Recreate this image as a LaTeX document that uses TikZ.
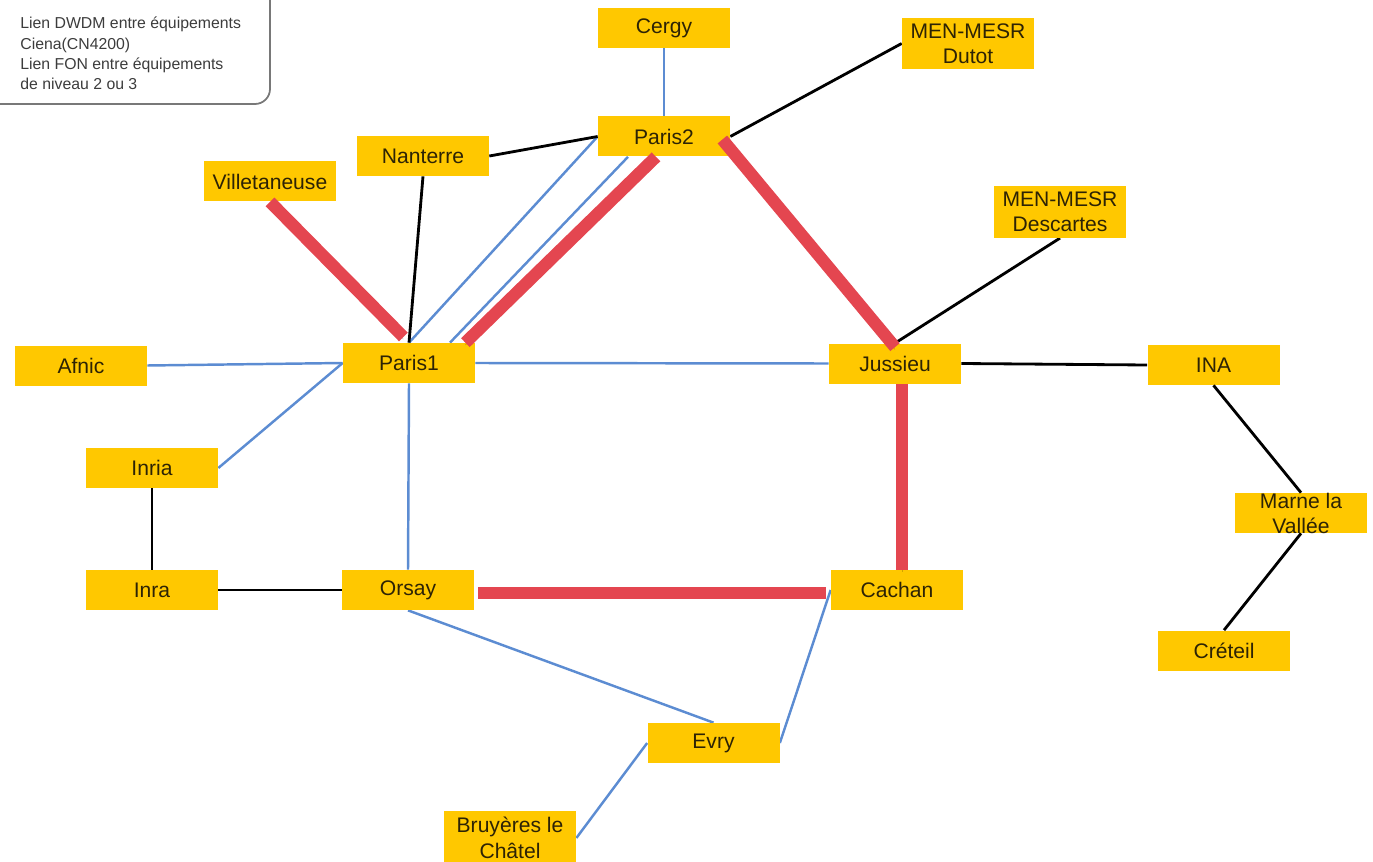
\documentclass[tikz,border=0pt]{standalone}
\usepackage{fontspec}
\setmainfont{Liberation Sans}
\usetikzlibrary{calc}
\pgfdeclarelayer{background}
\pgfsetlayers{background,main}
\definecolor{boxyellow}{RGB}{255,200,0}
\definecolor{boxtext}{RGB}{45,35,5}
\definecolor{linkblue}{RGB}{92,140,210}
\definecolor{linkred}{RGB}{228,70,80}
\definecolor{legendtext}{RGB}{60,60,60}
\definecolor{legendframe}{RGB}{120,120,120}
\tikzset{
  site/.style={fill=boxyellow, text=boxtext, inner sep=0pt, minimum width=2.64cm, minimum height=0.8cm,
    font=\fontsize{12}{14.5}\selectfont, align=center},
  tallsite/.style={site, minimum height=1.03cm},
  sitetext/.style={text=boxtext, inner sep=0pt, font=\fontsize{12}{14.2}\selectfont, align=center},
  bluelink/.style={draw=linkblue, line width=1.4pt},
  blacklink/.style={draw=black, line width=1.6pt},
  redlink/.style={draw=linkred, line width=7pt,
    preaction={draw=black, opacity=0.18, transform canvas={yshift=-1.3pt}}},
}
\begin{document}
\begin{tikzpicture}
\useasboundingbox (0,0) rectangle (27.46,-17.24);
\clip (0,0) rectangle (27.46,-17.24);

% legend
\draw[legendframe, line width=1pt, rounded corners=0.3cm] (-0.6,0.6) rectangle (5.4,-2.08);
\node[anchor=north west, inner sep=0pt, align=left, text=legendtext, font=\fontsize{9}{11.4}\selectfont] (legend) at (0.4,-0.34)
  {Lien DWDM entre équipements\\Ciena(CN4200)\\Lien FON entre équipements\\de niveau 2 ou 3};

% sites
\node[site] (cergy) at (13.28,-0.56) {Cergy};
\node[tallsite] (dutot) at (19.36,-0.87) {MEN-MESR\\Dutot};
\node[site] (paris2) at (13.28,-2.73) {Paris2};
\node[site] (nanterre) at (8.46,-3.12) {Nanterre};
\node[site] (villetaneuse) at (5.40,-3.63) {Villetaneuse};
\node[tallsite] (descartes) at (21.20,-4.24) {MEN-MESR\\Descartes};
\node[site] (afnic) at (1.62,-7.31) {Afnic};
\node[site] (paris1) at (8.18,-7.26) {Paris1};
\node[site] (jussieu) at (17.90,-7.27) {Jussieu};
\node[site] (ina) at (24.27,-7.30) {INA};
\node[site] (inria) at (3.04,-9.36) {Inria};
\node[site] (marne) at (26.02,-10.26) {};
\node[sitetext] (marnetext) at (26.02,-10.26) {Marne la\\Vallée};
\node[site] (inra) at (3.04,-11.80) {Inra};
\node[site] (orsay) at (8.16,-11.80) {Orsay};
\node[site] (cachan) at (17.94,-11.80) {Cachan};
\node[site] (creteil) at (24.48,-13.01) {Créteil};
\node[site] (evry) at (14.27,-14.86) {Evry};
\node[site, minimum height=1.1cm] (bruyeres) at (10.20,-16.76) {Bruyères le\\Châtel};

% thin links behind the boxes
\begin{pgfonlayer}{background}
\draw[bluelink] (cergy.south) -- (paris2.north);
\draw[bluelink] (paris1.north) -- (paris2.west);
\draw[bluelink] ([xshift=0.82cm]paris1.north) -- ([xshift=-0.72cm]paris2.south);
\draw[bluelink] (afnic.east) -- (paris1.west);
\draw[bluelink] (inria.east) -- (paris1.west);
\draw[bluelink] (paris1.east) -- (jussieu.west);
\draw[bluelink] (paris1.south) -- (orsay.north);
\draw[bluelink] (orsay.south) -- (evry.north);
\draw[bluelink] (cachan.west) -- (evry.east);
\draw[bluelink] (evry.west) -- (bruyeres.east);

\draw[blacklink] (nanterre.east) -- (paris2.west);
\draw[blacklink] (nanterre.south) -- (paris1.north);
\draw[blacklink] (paris2.east) -- (dutot.west);
\draw[blacklink] (jussieu.north) -- (descartes.south);
\draw[blacklink] (jussieu.east) -- (ina.west);
\draw[blacklink] (inria.south) -- (inra.north);
\draw[blacklink] (inra.east) -- (orsay.west);
\end{pgfonlayer}
\draw[blacklink] (ina.south) -- (marne.north);
\draw[blacklink] (marne.south) -- (creteil.north);

% DWDM links (red)
\coordinate (jc) at ([xshift=0.14cm]jussieu.south);
\draw[redlink, shorten >=0.16cm] (villetaneuse.south) -- (paris1.north);
\draw[redlink] ([xshift=-0.2cm]paris1.north east) -- ([xshift=-0.16cm]paris2.south);
\draw[redlink] ([xshift=-0.16cm,yshift=-0.06cm]paris2.east) -- ([yshift=-0.08cm]jussieu.north);
\draw[redlink] (jc) -- (jc |- cachan.north);
\draw[redlink] ([xshift=0.08cm,yshift=-0.06cm]orsay.east) -- ([xshift=-0.1cm,yshift=-0.06cm]cachan.west);
\end{tikzpicture}
\end{document}
